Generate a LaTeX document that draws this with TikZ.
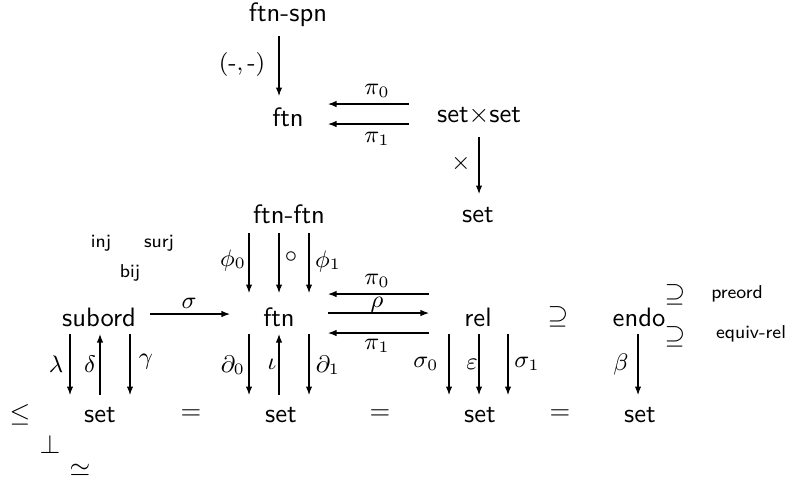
\documentclass[tikz,border=0pt]{standalone}
\usetikzlibrary{arrows.meta}
\begin{document}
\begin{tikzpicture}[x=0.376pt,y=-0.376pt,
  obj/.style={font=\sffamily,inner sep=0pt},
  small/.style={font=\sffamily\scriptsize,inner sep=0pt},
  rel/.style={inner sep=0pt},
  mlab/.style={inner sep=0pt,font=\small},
  arr/.style={-{Latex[length=3.2pt,width=2.4pt]},line width=0.4pt}]
\useasboundingbox (0,0) rectangle (789,477);
% objects
\node[obj] (ftnspn) at (288,15) {ftn-spn};
\node[obj] (ftnA) at (288,117) {ftn};
\node[obj] (setset) at (479,116) {set$\times$set};
\node[obj] (setA) at (478,215) {set};
\node[obj] (ftnftn) at (289,214) {ftn-ftn};
\node[obj] (subord) at (99,317) {subord};
\node[obj] (ftnB) at (279,317) {ftn};
\node[obj] (rel) at (478,317) {rel};
\node[rel] (supA) at (558,317) {$\supseteq$};
\node[obj] (endo) at (639,317) {endo};
\node[rel] (supB) at (675,295) {$\supseteq$};
\node[rel] (supC) at (675,337) {$\supseteq$};
\node[small] (preord) at (737,294) {preord};
\node[small] (equiv) at (751,334) {equiv-rel};
\node[small] (inj) at (101,243) {inj};
\node[small] (surj) at (159,243) {surj};
\node[small] (bij) at (130,273) {bij};
\node[rel] (leq) at (20,415) {$\leq$};
\node[obj] (set1) at (100,415) {set};
\node[rel] (eq1) at (191,415) {$=$};
\node[obj] (set2) at (281,415) {set};
\node[rel] (eq2) at (380,415) {$=$};
\node[obj] (set3) at (480,415) {set};
\node[rel] (eq3) at (560,415) {$=$};
\node[obj] (set4) at (640,415) {set};
\node[rel] (perp) at (50,444) {$\perp$};
\node[rel] (simeq) at (80,470) {$\simeq$};
% coordinates for arrow ends
\coordinate (a1s) at (279,36); \coordinate (a1e) at (279,96);
\coordinate (p0s) at (409,104); \coordinate (p0e) at (328,104);
\coordinate (p1s) at (409,124); \coordinate (p1e) at (328,124);
\coordinate (xs) at (479,137); \coordinate (xe) at (479,194);
\foreach \x/\n in {249/f0,279/fc,309/f1}{
  \coordinate (\n s) at (\x,233); \coordinate (\n e) at (\x,293);}
\coordinate (sgs) at (150,314); \coordinate (sge) at (230,314);
\coordinate (q0s) at (429,294); \coordinate (q0e) at (328,294);
\coordinate (rhs) at (328,313); \coordinate (rhe) at (429,313);
\coordinate (q1s) at (429,333); \coordinate (q1e) at (328,333);
\foreach \x/\n in {70/lam,100/del,130/gam,249/d0,279/io,309/d1,449/s0,479/ep,508/s1,638/be}{
  \coordinate (\n t) at (\x,334); \coordinate (\n b) at (\x,395);}
% arrows
\draw[arr] (a1s) -- (a1e);
\draw[arr] (p0s) -- (p0e);
\draw[arr] (p1s) -- (p1e);
\draw[arr] (xs) -- (xe);
\draw[arr] (f0s) -- (f0e);
\draw[arr] (fcs) -- (fce);
\draw[arr] (f1s) -- (f1e);
\draw[arr] (sgs) -- (sge);
\draw[arr] (q0s) -- (q0e);
\draw[arr] (rhs) -- (rhe);
\draw[arr] (q1s) -- (q1e);
\draw[arr] (lamt) -- (lamb);
\draw[arr] (delb) -- (delt);
\draw[arr] (gamt) -- (gamb);
\draw[arr] (d0t) -- (d0b);
\draw[arr] (iob) -- (iot);
\draw[arr] (d1t) -- (d1b);
\draw[arr] (s0t) -- (s0b);
\draw[arr] (ept) -- (epb);
\draw[arr] (s1t) -- (s1b);
\draw[arr] (bet) -- (beb);
% labels
\node[mlab] (lpair) at (242,65) {$(\mbox{-},\mbox{-})$};
\node[mlab] (lp0a) at (377,91) {$\pi_0$};
\node[mlab] (lp1a) at (377,139) {$\pi_1$};
\node[mlab] (ltimes) at (461,163) {$\times$};
\node[mlab] (lphi0) at (233,260) {$\phi_0$};
\node[mlab] (lcirc) at (291,257) {$\circ$};
\node[mlab] (lphi1) at (328,261) {$\phi_1$};
\node[mlab] (lsig) at (189,303) {$\sigma$};
\node[mlab] (lp0b) at (377,281) {$\pi_0$};
\node[mlab] (lrho) at (377,305) {$\rho$};
\node[mlab] (lp1b) at (377,346) {$\pi_1$};
\node[mlab] (llam) at (56,364) {$\lambda$};
\node[mlab] (ldel) at (90,364) {$\delta$};
\node[mlab] (lgam) at (146,362) {$\gamma$};
\node[mlab] (ld0) at (233,365) {$\partial_0$};
\node[mlab] (lio) at (272,364) {$\iota$};
\node[mlab] (ld1) at (328,365) {$\partial_1$};
\node[mlab] (ls0) at (426,364) {$\sigma_0$};
\node[mlab] (lep) at (472,364) {$\varepsilon$};
\node[mlab] (ls1) at (527,364) {$\sigma_1$};
\node[mlab] (lbe) at (621,364) {$\beta$};
\end{tikzpicture}
\end{document}
